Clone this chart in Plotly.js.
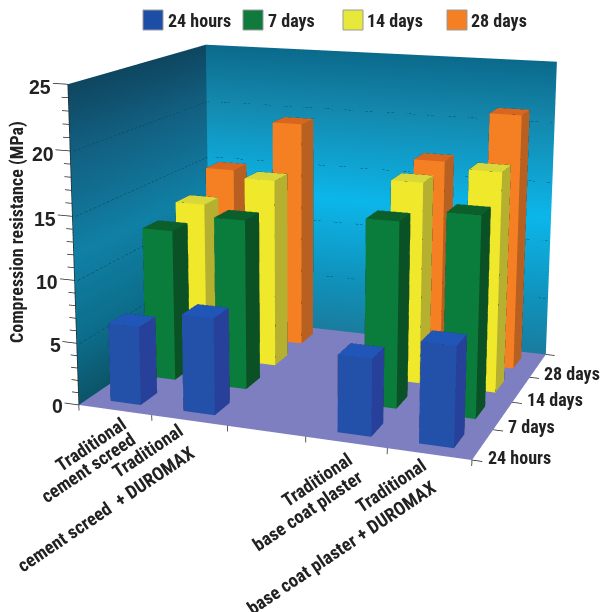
<!DOCTYPE html>
<html><head><meta charset="utf-8">
<script src="https://cdn.plot.ly/plotly-3.0.1.min.js"></script>
<style>html,body{margin:0;padding:0;width:604px;height:612px;overflow:hidden;background:#fff}
#wrap{position:absolute;left:0;top:0;width:604px;height:612px;overflow:hidden}
#g{position:absolute;left:-343px;top:-435px;width:1286px;height:1286px}</style>
</head><body><div id="wrap"><div id="g"></div></div>
<script>
// ---- data ----
const categories = ["Traditional<br>cement screed","Traditional<br>cement screed  + DUROMAX","","Traditional<br>base coat plaster","Traditional<br>base coat plaster + DUROMAX"];
const seriesNames = ["24 hours","7 days","14 days","28 days"];
const hours24 = [6.3, 7.7, null, 6.0, 7.7];
const days7   = [12.4, 13.8, null, 14.8, 15.8];
const days14  = [13.2, 15.7, null, 16.5, 17.8];
const days28  = [14.9, 19.3, null, 17.0, 21.2];
const seriesValues = [hours24, days7, days14, days28];
const valueTicks = [0,5,10,15,20,25];

// ---- style ----
const faceFront = ["#2350a8","#0a7d3c","#f0e92b","#f58024"];
const faceTop   = ["#1f56b8","#0b5f2a","#d8d83a","#d9661f"];
const faceSide  = ["#27409a","#0a5226","#b5b030","#b85f22"];
const legendCol = ["#1c4ea6","#0f7a3c","#e8e83a","#f58024"];
const wallZ     = [0,5,12,20,25];
const backCols  = ["#1a7c9e","#0f93bd","#0cb6ea","#1488ad","#0b6a8c"];
const leftCols  = ["#0c5468","#0c6d8a","#1080a5","#125f80","#0e4660"];
const flat = {ambient:1,diffuse:0,specular:0,roughness:1,fresnel:0};
const ink = "#222";
const NARROW = "'Roboto Condensed','Liberation Sans',sans-serif";
const nCat = categories.length, nRow = seriesNames.length, zMax = 25;

const traces = [];

// walls + floor
function wall(cols, pt){
  const x=[],y=[],z=[],c=[],i=[],j=[],k=[];
  wallZ.forEach((h,n)=>{[0,1].forEach(s=>{const p=pt(s,h);x.push(p[0]);y.push(p[1]);z.push(p[2]);c.push(cols[n]);});});
  for(let n=0;n<wallZ.length-1;n++){const a=2*n;i.push(a,a);j.push(a+1,a+3);k.push(a+3,a+2);}
  traces.push({type:"mesh3d",x,y,z,i,j,k,vertexcolor:c,lighting:flat,flatshading:false,hoverinfo:"skip",showscale:false});
}
wall(backCols,(s,h)=>[s*nCat,nRow,h]);
wall(leftCols,(s,h)=>[0,s*nRow,h]);
traces.push({type:"mesh3d",x:[0,nCat,nCat,0],y:[0,0,nRow,nRow],z:[0,0,0,0],i:[0,0],j:[1,2],k:[2,3],color:"#7d7fc0",lighting:flat,flatshading:true,hoverinfo:"skip",showscale:false});

// bars
const barLo=0.3, barHi=0.72, depthLo=0.27, depthHi=0.73;
seriesValues.forEach((vals,s)=>{
  const x=[],y=[],z=[],i=[],j=[],k=[],fc=[],ex=[],ey=[],ez=[];
  vals.forEach((v,c)=>{
    if(v==null) return;
    const x0=c+barLo,x1=c+barHi,y0=s+depthLo,y1=s+depthHi;
    const quads=[[[x0,y0,0],[x1,y0,0],[x1,y0,v],[x0,y0,v],faceFront[s]],
                 [[x0,y0,v],[x1,y0,v],[x1,y1,v],[x0,y1,v],faceTop[s]],
                 [[x1,y0,0],[x1,y1,0],[x1,y1,v],[x1,y0,v],faceSide[s]]];
    quads.forEach(q=>{
      const b=x.length;
      for(let n=0;n<4;n++){x.push(q[n][0]);y.push(q[n][1]);z.push(q[n][2]);}
      i.push(b,b);j.push(b+1,b+2);k.push(b+2,b+3);fc.push(q[4],q[4]);
      for(let n=0;n<5;n++){const p=q[n%4];ex.push(p[0]);ey.push(p[1]);ez.push(p[2]);}
      ex.push(null);ey.push(null);ez.push(null);
    });
  });
  traces.push({type:"mesh3d",x,y,z,i,j,k,facecolor:fc,lighting:flat,flatshading:true,hoverinfo:"skip",showscale:false,name:seriesNames[s]});
  traces.push({type:"scatter3d",mode:"lines",x:ex,y:ey,z:ez,line:{color:"rgba(20,20,20,0.45)",width:1},hoverinfo:"skip",showlegend:false});
});

// fine-dashed grid lines on the walls, one short stroke after another
const gx=[],gy=[],gz=[];
const gridIn=0.04;
function dashes(x0,y0,x1,y1,t,n){
  for(let d=0;d<n;d++){
    const a=d/n,b=(d+0.6)/n;
    gx.push(x0+(x1-x0)*a,x0+(x1-x0)*b,null);gy.push(y0+(y1-y0)*a,y0+(y1-y0)*b,null);gz.push(t,t,null);
  }
}
valueTicks.filter(t=>t>0&&t<zMax).forEach(t=>{
  dashes(gridIn,0,gridIn,nRow-gridIn,t,34);
  dashes(gridIn,nRow-gridIn,nCat,nRow-gridIn,t,80);
});
traces.push({type:"scatter3d",mode:"lines",x:gx,y:gy,z:gz,line:{color:"rgba(8,45,70,0.8)",width:1},hoverinfo:"skip",showlegend:false});

// axis ticks
const tx=[],ty=[],tz=[];
for(let t=0;t<=zMax;t++){ if(t%5===0){tx.push(-0.2,0,null);ty.push(0,0,null);tz.push(t,t,null);}
  else {tx.push(-0.09,0,null);ty.push(0,0,null);tz.push(t,t,null);} }
for(let c=0;c<=nCat;c++){tx.push(c,c,null);ty.push(0,0,null);tz.push(0,-0.45,null);}
for(let r=0;r<=nRow;r++){tx.push(nCat,nCat+0.12,null);ty.push(r,r,null);tz.push(0,0,null);}
tx.push(0,0,null);ty.push(0,0,null);tz.push(0,zMax,null);
traces.push({type:"scatter3d",mode:"lines",x:tx,y:ty,z:tz,line:{color:"#222",width:1.5},hoverinfo:"skip",showlegend:false});

// scene annotations
const sceneAnn=[];
valueTicks.forEach(t=>sceneAnn.push({x:-0.25,y:0,z:t,text:"<b>"+t+"</b>",showarrow:false,xanchor:"right",yanchor:"middle",xshift:4,yshift:-4,
  font:{family:"'Liberation Sans',sans-serif",size:19.5,color:ink}}));
seriesNames.forEach((n,r)=>sceneAnn.push({x:nCat+0.18,y:r,z:0,text:"<b>"+n+"</b>",showarrow:false,xanchor:"left",yanchor:"middle",xshift:-2,yshift:5,
  font:{family:NARROW,size:18,color:ink}}));
// one annotation per label line, so the line spacing can be closer than Plotly's own
const lineShift=[[[3,9],[13,-6]],[[-14,13],[-2,-9]],null,[[-3,7],[7,-11]],[[-13,13],[-3,-9]]];
categories.forEach((n,c)=>{ if(!n) return;
  n.split("<br>").forEach((line,l)=>sceneAnn.push({x:c+0.7,y:0,z:-0.6,text:"<b>"+line+"</b>",showarrow:false,textangle:-34,xanchor:"right",yanchor:"top",
    xshift:lineShift[c][l][0],yshift:lineShift[c][l][1],font:{family:NARROW,size:18.5,color:ink}}));
});

// page helpers (pixel position in the 604x612 window -> paper fraction)
const H=1286, OX=343, OY=435;
const pxX=x=>(x+OX)/H, pxY=y=>1-(y+OY)/H;
const swatchX=[143,243,343,447], labelX=[166,266,365,469];
const shapes=seriesNames.map((n,i)=>({type:"rect",xref:"paper",yref:"paper",x0:pxX(swatchX[i]),x1:pxX(swatchX[i]+20),y0:pxY(30),y1:pxY(10),fillcolor:legendCol[i],line:{color:"#9a9a9a",width:1}}));
const annotations=seriesNames.map((n,i)=>({xref:"paper",yref:"paper",x:pxX(labelX[i]),y:pxY(20),text:"<b>"+n+"</b>",showarrow:false,xanchor:"left",yanchor:"middle",font:{family:NARROW,size:18,color:ink}}));
annotations.push({xref:"paper",yref:"paper",x:pxX(17),y:pxY(232),text:"<b>Compression resistance (MPa)</b>",textangle:-90,showarrow:false,xanchor:"center",yanchor:"middle",font:{family:NARROW,size:18,color:ink}});

const axisBase={visible:false,showgrid:false,showbackground:false,showspikes:false,zeroline:false,showline:false,showticklabels:false};
const layout={width:H,height:H,margin:{l:0,r:0,t:0,b:0},paper_bgcolor:"#fff",showlegend:false,shapes,annotations,
  scene:{domain:{x:[0,1],y:[0,1]},dragmode:false,hovermode:false,bgcolor:"rgba(0,0,0,0)",
    xaxis:Object.assign({range:[-0.5,nCat+0.5]},axisBase),
    yaxis:Object.assign({range:[-0.5,nRow+0.5]},axisBase),
    zaxis:Object.assign({range:[-1,zMax+1]},axisBase),
    aspectmode:"manual",aspectratio:{x:0.8885,y:0.737,z:0.6404},
    camera:{projection:{type:"perspective"},eye:{x:0.96,y:-2.6675,z:0.7035},center:{x:-0.0726,y:0.0649,z:0.0204},up:{x:0,y:0,z:1}},
    annotations:sceneAnn}};
Plotly.newPlot("g",traces,layout,{displayModeBar:false});
</script></body></html>
